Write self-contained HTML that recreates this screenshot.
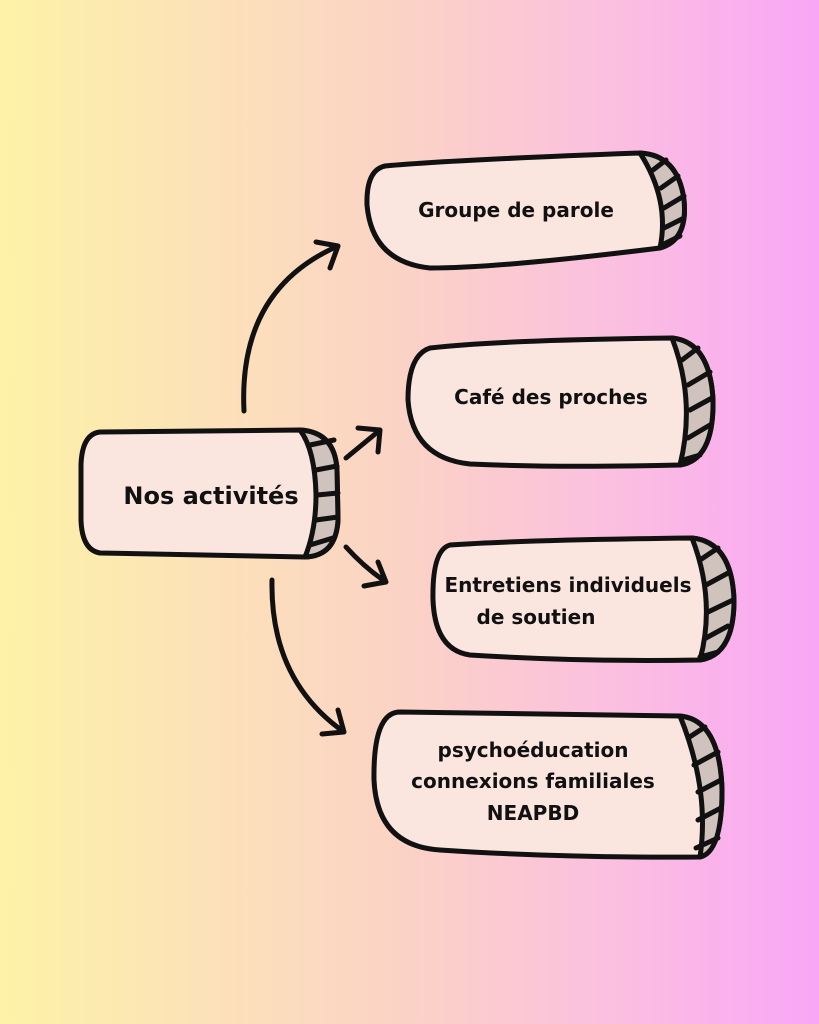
<!DOCTYPE html>
<html><head><meta charset="utf-8"><style>
html,body{margin:0;padding:0}
body{width:819px;height:1024px;background:linear-gradient(90deg,#fdf2a7 0%,#fce2b8 25%,#fbd2c6 50%,#fbbfe0 75%,#f9a6f6 100%);overflow:hidden}
svg{position:absolute;left:0;top:0}
text{font-family:"DejaVu Sans","Liberation Sans",sans-serif;font-weight:bold;fill:#111;text-anchor:middle}
</style></head><body>
<svg width="819" height="1024" viewBox="0 0 819 1024" fill="none" stroke="#111" stroke-width="5" stroke-linecap="round" stroke-linejoin="round">
<path d="M100,432 L300,430 Q335,432 337,470 L338,520 Q336,556 305,557 L100,553 Q82,550 81,520 L81,465 Q82,434 100,432Z" fill="#fbe5df"/>
<path d="M300,430 Q335,432 337,470 L338,520 Q336,556 305,557 Q316,530 316,495 Q315,450 300,430Z" fill="#d0c3be"/>
<path d="M310,445 L334,440 M316,470 L337,466 M317,495 L338,493 M316,520 L338,517 M310,545 L333,538" />
<path d="M385,166 Q450,160 640,153 Q678,155 684,200 Q688,240 660,248 Q500,268 430,268 Q372,262 367,205 Q366,170 385,166Z" fill="#fbe5df"/>
<path d="M640,153 Q678,155 684,200 Q688,240 660,248 Q670,200 640,153Z" fill="#d0c3be"/>
<path d="M653,170 L666,160 M661,188 L678,176 M664,208 L684,196 M664,228 L684,218 M662,245 L680,236"/>
<path d="M430,348 Q500,340 672,338 Q710,342 713,400 Q714,460 680,465 Q560,468 470,464 Q412,458 408,400 Q408,355 430,348Z" fill="#fbe5df"/>
<path d="M672,338 Q710,342 713,400 Q714,460 680,465 Q696,400 672,338Z" fill="#d0c3be"/>
<path d="M682,360 L698,348 M688,385 L710,372 M690,410 L712,398 M688,438 L710,425 M683,460 L700,455"/>
<path d="M450,545 Q520,540 692,538 Q732,542 734,600 Q734,655 700,660 Q580,662 470,655 Q435,650 433,600 Q432,550 450,545Z" fill="#fbe5df"/>
<path d="M692,538 Q732,542 734,600 Q734,655 700,660 Q716,600 692,538Z" fill="#d0c3be"/>
<path d="M700,560 L718,548 M706,585 L730,572 M708,612 L733,600 M706,638 L728,626 M700,657 L718,652"/>
<path d="M400,712 Q500,714 680,716 Q720,720 722,790 Q722,852 700,857 Q560,858 440,850 Q377,846 374,780 Q373,712 400,712Z" fill="#fbe5df"/>
<path d="M680,716 Q720,720 722,790 Q722,852 700,857 Q710,790 680,716Z" fill="#d0c3be"/>
<path d="M688,738 L705,727 M694,765 L718,752 M698,792 L721,780 M698,820 L721,808 M696,848 L718,838"/>
<path d="M244,411 Q238,290 338,246 M316,242 L338,246 L330,268"/>
<path d="M346,458 L380,430 M358,428 L380,430 L378,452"/>
<path d="M346,547 Q365,568 386,582 M364,586 L386,582 L378,562"/>
<path d="M272,580 Q270,680 344,732 M322,734 L344,732 L338,710"/>
</svg>
<svg width="819" height="1024">
<text x="211" y="504" font-size="24">Nos activités</text>
<text x="516" y="217" font-size="20">Groupe de parole</text>
<text x="551" y="404" font-size="20">Café des proches</text>
<text x="568" y="592" font-size="20">Entretiens individuels</text>
<text x="536" y="624" font-size="20">de soutien</text>
<text x="533" y="757" font-size="20">psychoéducation</text>
<text x="533" y="788" font-size="20">connexions familiales</text>
<text x="533" y="820" font-size="20">NEAPBD</text>
</svg>
</body></html>
